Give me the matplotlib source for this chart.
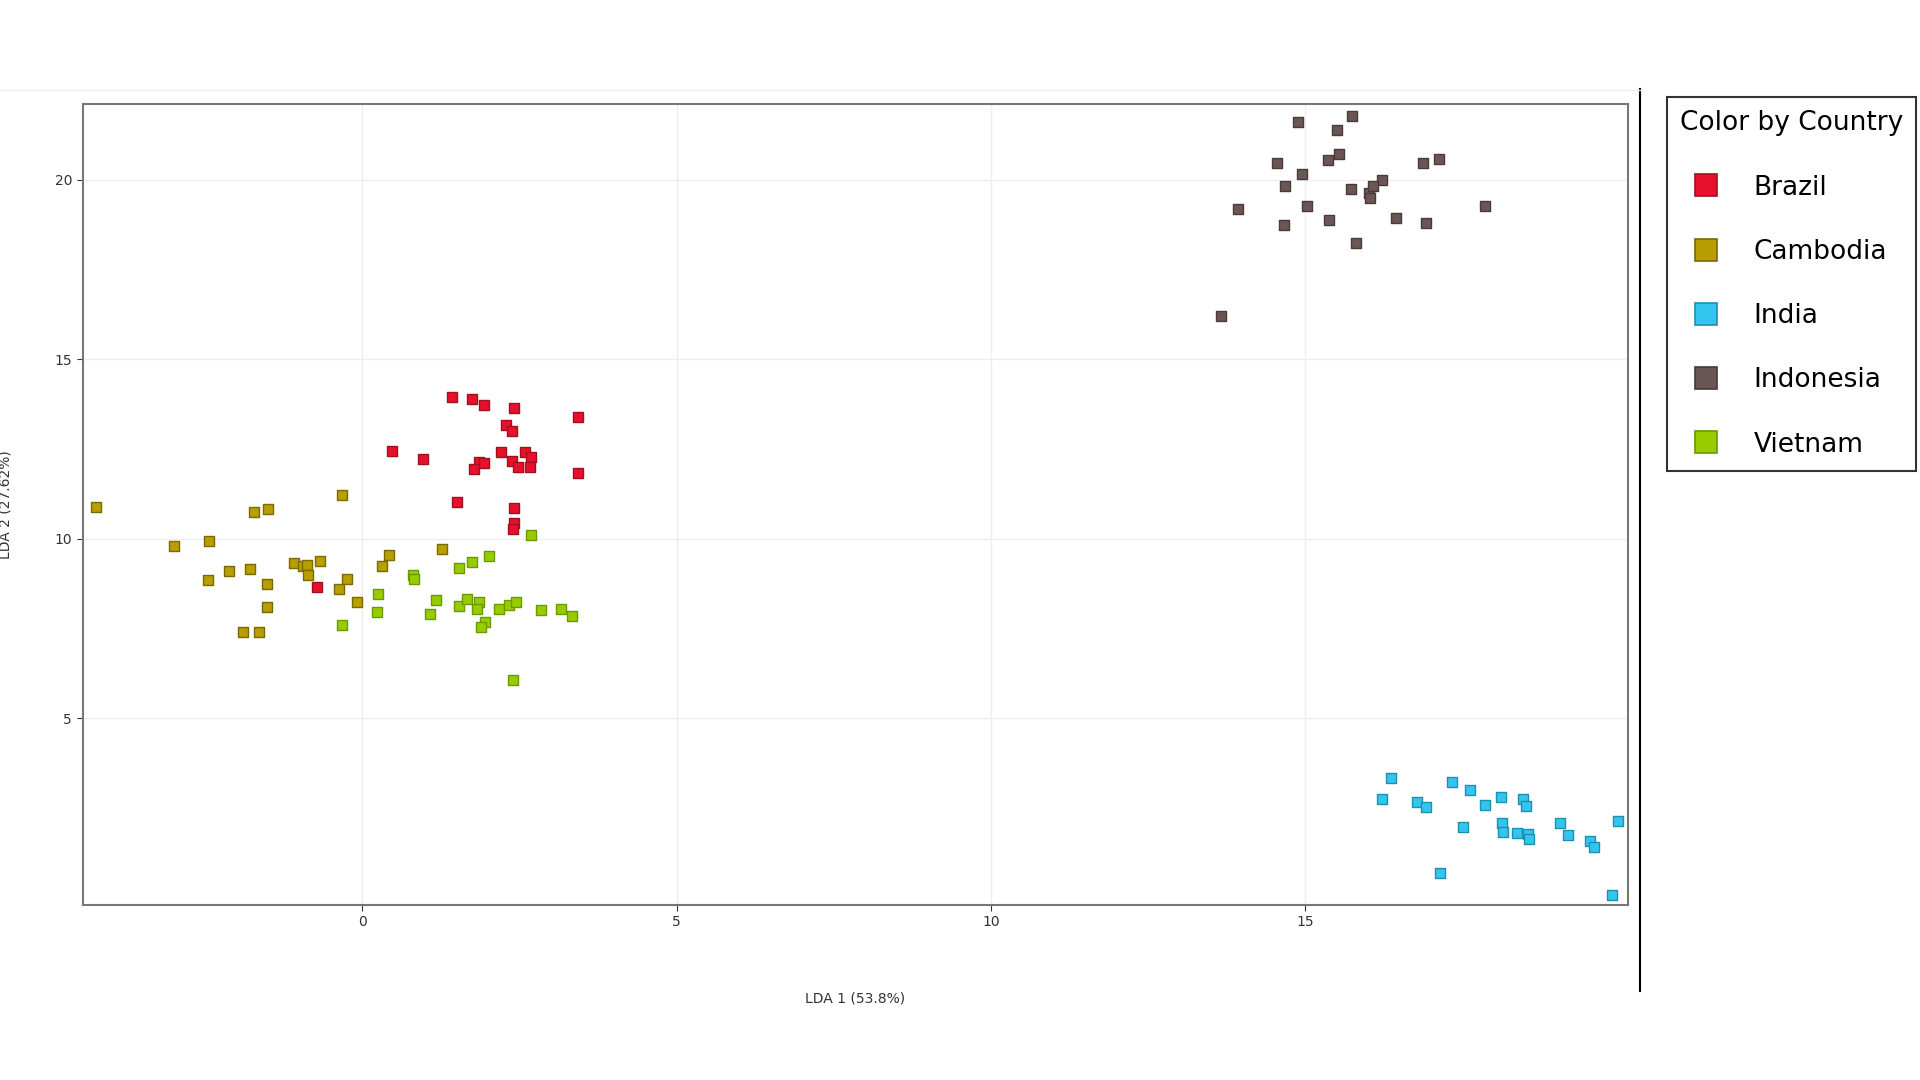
import matplotlib
matplotlib.use("Agg")
import matplotlib.pyplot as plt
from matplotlib.lines import Line2D

countries = ["Brazil", "Cambodia", "India", "Indonesia", "Vietnam"]
colors = ["#e8112d", "#b89e00", "#33c5ee", "#6b5656", "#99cc00"]
edges = ["#a0101f", "#7a6a00", "#1d8fb0", "#4a3a3a", "#6a9a00"]

brazil_x = [1.42,1.75,1.93,2.42,3.43,2.28,2.38,0.47,0.96,2.20,2.59,1.85,1.77,1.93,2.38,2.48,2.69,2.67,3.43,1.50,2.42,2.42,2.40,-0.72]
brazil_y = [13.96,13.89,13.72,13.65,13.38,13.17,13.0,12.46,12.22,12.42,12.42,12.15,11.95,12.12,12.18,12.01,12.29,12.01,11.84,11.02,10.85,10.44,10.27,8.67]
cambodia_x = [-4.23,-0.33,-1.73,-1.50,-3.00,-2.44,-2.46,-2.12,-1.79,-1.09,-0.94,-0.88,-0.68,-0.86,-1.52,-1.52,-1.89,-1.64,-0.37,-0.25,-0.08,0.31,0.43,1.27]
cambodia_y = [10.89,11.23,10.75,10.82,9.80,9.93,8.84,9.11,9.15,9.32,9.25,9.28,9.39,8.98,8.74,8.09,7.41,7.41,8.60,8.87,8.23,9.25,9.56,9.73]
india_x = [16.37,16.22,17.33,17.62,16.78,16.92,18.11,18.46,17.86,18.52,17.52,18.13,18.15,18.37,18.54,18.56,19.06,19.18,19.53,19.59,19.98,17.15,19.88]
india_y = [3.34,2.76,3.24,3.0,2.66,2.53,2.80,2.76,2.59,2.56,1.98,2.08,1.84,1.81,1.77,1.64,2.08,1.74,1.57,1.43,2.15,0.68,0.07]
indonesia_x = [15.75,14.89,15.50,14.56,15.36,15.54,16.88,17.13,14.95,14.68,16.22,16.02,16.08,16.04,15.73,13.94,15.03,17.86,16.45,14.66,15.38,16.92,15.81,13.66]
indonesia_y = [21.77,21.60,21.40,20.48,20.55,20.72,20.48,20.58,20.17,19.83,20.0,19.62,19.83,19.49,19.73,19.18,19.28,19.28,18.94,18.74,18.87,18.81,18.23,16.21]
vietnam_x = [2.69,2.01,1.75,1.54,0.80,0.82,0.25,-0.33,0.23,1.07,1.17,1.54,1.66,1.85,1.83,1.95,1.89,2.18,2.34,2.44,2.85,3.16,3.33,2.40]
vietnam_y = [10.10,9.52,9.35,9.18,8.98,8.87,8.46,7.61,7.95,7.92,8.29,8.12,8.33,8.23,8.05,7.68,7.54,8.05,8.16,8.23,8.02,8.05,7.85,6.08]

data = [(brazil_x, brazil_y), (cambodia_x, cambodia_y), (india_x, india_y),
        (indonesia_x, indonesia_y), (vietnam_x, vietnam_y)]

fig = plt.figure(figsize=(19.2, 10.8), dpi=100)
ax = fig.add_axes([0.043, 0.162, 0.805, 0.742])
for (xs, ys), c, e in zip(data, colors, edges):
    ax.scatter(xs, ys, marker="s", s=55, c=c, edgecolors=e, linewidths=1.0, zorder=3)

ax.set_xlim(-4.45, 20.14)
ax.set_ylim(-0.2, 22.12)
ax.set_xticks([0, 5, 10, 15])
ax.set_yticks([5, 10, 15, 20])
ax.grid(True, color="#eeeeee", linewidth=1)
ax.tick_params(labelsize=10, colors="#333333", length=4)
for s in ax.spines.values():
    s.set_color("#777777")
    s.set_linewidth(1.5)
ax.set_xlabel("LDA 1 (53.8%)", fontsize=10, color="#333333", labelpad=45)
ax.set_ylabel("LDA 2 (27.62%)", fontsize=10, color="#333333", labelpad=30)

# separator lines
fig.add_artist(Line2D([0.854, 0.854], [0.082, 0.918], color="black", lw=1.5))
fig.add_artist(Line2D([0.0, 0.854], [0.917, 0.917], color="#eeeeee", lw=1))

handles = [Line2D([], [], marker="s", ls="", markersize=16, markerfacecolor=c,
                  markeredgecolor=e, markeredgewidth=1.2) for c, e in zip(colors, edges)]
leg = fig.legend(handles, countries, title="Color by Country", loc="upper left",
                 bbox_to_anchor=(0.868, 0.91), fontsize=19, title_fontsize=19,
                 frameon=True, fancybox=False, edgecolor="black", labelspacing=1.45,
                 handletextpad=0.8, borderpad=0.5, borderaxespad=0)
leg._legend_box.align = "left"
leg.get_frame().set_linewidth(1.5)

fig.savefig("out.png", dpi=100, facecolor="white")
